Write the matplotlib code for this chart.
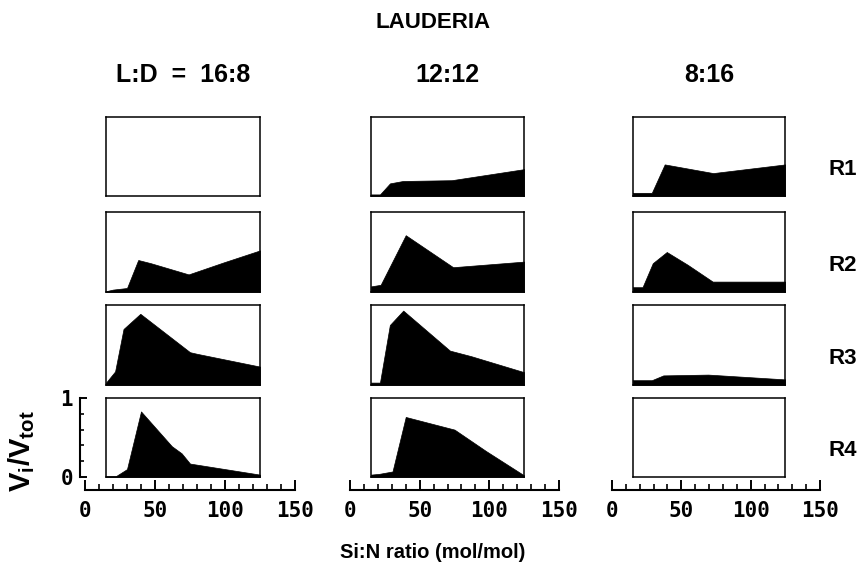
import matplotlib
matplotlib.use('Agg')
import matplotlib.pyplot as plt
from matplotlib.ticker import MultipleLocator, FixedLocator

plt.rcParams['mathtext.fontset'] = 'custom'
plt.rcParams['mathtext.bf'] = 'Liberation Sans:bold'
plt.rcParams['mathtext.rm'] = 'Liberation Sans'
plt.rcParams['mathtext.it'] = 'Liberation Sans:italic'

# ---------------- data ----------------
main_title = 'LAUDERIA'
col_titles = ['L:D  =  16:8', '12:12', '8:16']
row_labels = ['R1', 'R2', 'R3', 'R4']
x_label = 'Si:N ratio (mol/mol)'
y_label = r'$\mathbf{V_i/V_{tot}}$'
x_ticks = [0, 50, 100, 150]
y_ticks = [0, 1]

# L:D = 16:8
x_16_8_R1, y_16_8_R1 = [], []
x_16_8_R2 = [15, 20, 30, 38, 47, 74, 99, 125]
y_16_8_R2 = [0.01, 0.03, 0.05, 0.40, 0.36, 0.22, 0.37, 0.52]
x_16_8_R3 = [15, 21.5, 27.5, 39.5, 75, 80, 125]
y_16_8_R3 = [0.03, 0.17, 0.70, 0.89, 0.41, 0.39, 0.23]
x_16_8_R4 = [15, 22, 30, 40, 62, 69, 75, 125]
y_16_8_R4 = [0.01, 0.01, 0.10, 0.83, 0.39, 0.30, 0.17, 0.03]

# L:D = 12:12
x_12_12_R1 = [15, 21.5, 28.7, 38, 73, 125]
y_12_12_R1 = [0.02, 0.02, 0.16, 0.19, 0.20, 0.34]
x_12_12_R2 = [15, 22, 31, 40, 74, 125]
y_12_12_R2 = [0.07, 0.09, 0.40, 0.71, 0.31, 0.38]
x_12_12_R3 = [15, 21.5, 28.6, 38.2, 71.7, 87, 125]
y_12_12_R3 = [0.03, 0.03, 0.75, 0.93, 0.43, 0.36, 0.16]
x_12_12_R4 = [15, 21, 30.5, 40, 75, 97.5, 125]
y_12_12_R4 = [0.03, 0.04, 0.07, 0.76, 0.60, 0.33, 0.02]

# L:D = 8:16
x_8_16_R1 = [15, 28.7, 38, 73, 125]
y_8_16_R1 = [0.04, 0.04, 0.40, 0.29, 0.40]
x_8_16_R2 = [15, 22, 29.4, 39.5, 54.6, 72.6, 125]
y_8_16_R2 = [0.06, 0.06, 0.36, 0.50, 0.34, 0.13, 0.13]
x_8_16_R3 = [15, 28.7, 37, 69.4, 125]
y_8_16_R3 = [0.06, 0.06, 0.12, 0.13, 0.07]
x_8_16_R4, y_8_16_R4 = [], []

panels = [
    [(x_16_8_R1, y_16_8_R1), (x_16_8_R2, y_16_8_R2), (x_16_8_R3, y_16_8_R3), (x_16_8_R4, y_16_8_R4)],
    [(x_12_12_R1, y_12_12_R1), (x_12_12_R2, y_12_12_R2), (x_12_12_R3, y_12_12_R3), (x_12_12_R4, y_12_12_R4)],
    [(x_8_16_R1, y_8_16_R1), (x_8_16_R2, y_8_16_R2), (x_8_16_R3, y_8_16_R3), (x_8_16_R4, y_8_16_R4)],
]

# ---------------- layout (pixels) ----------------
W, H = 866, 578
ruler_px = [(85, 295), (350, 559), (612, 820)]
row_px = [(117, 196), (212, 292), (305, 385), (398, 477)]
ruler_y = 490
xmin_box, xmax_box = 15, 125
xr = (0, 150)

fig = plt.figure(figsize=(W / 100, H / 100), dpi=100)


def fx(p):
    return p / W


def fy(p):
    return 1 - p / H


tick_font = dict(family='DejaVu Sans Mono', weight='bold', size=15)
bold = dict(family='Liberation Sans', weight='bold')

for c in range(3):
    rl, rr = ruler_px[c]
    rw = rr - rl
    bl = rl + (xmin_box - xr[0]) / (xr[1] - xr[0]) * rw
    br = rl + (xmax_box - xr[0]) / (xr[1] - xr[0]) * rw
    for r in range(4):
        top, bot = row_px[r]
        ax = fig.add_axes([fx(bl), fy(bot), (br - bl) / W, (bot - top) / H])
        ax.set_xlim(xmin_box, xmax_box)
        ax.set_ylim(0, 1)
        ax.set_xticks([])
        ax.set_yticks([])
        for s in ax.spines.values():
            s.set_linewidth(1.1)
            s.set_color('black')
        xs, ys = panels[c][r]
        if xs:
            ax.fill_between(xs, ys, 0, color='black', lw=0.5, edgecolor='black')

    # x ruler
    rax = fig.add_axes([fx(rl), fy(ruler_y), rw / W, 10 / H])
    rax.set_xlim(*xr)
    rax.set_ylim(0, 1)
    rax.patch.set_visible(False)
    for k in ('top', 'left', 'right'):
        rax.spines[k].set_visible(False)
    rax.spines['bottom'].set_linewidth(1.5)
    rax.set_yticks([])
    rax.xaxis.set_major_locator(FixedLocator(x_ticks))
    rax.xaxis.set_minor_locator(MultipleLocator(10))
    rax.tick_params(axis='x', which='major', direction='in', length=7, width=1.4, pad=8)
    rax.tick_params(axis='x', which='minor', direction='in', length=4, width=1.2)
    rax.set_xticklabels([str(t) for t in x_ticks], fontdict=tick_font)

    fig.text(fx((bl + br) / 2), fy(75), col_titles[c], ha='center', va='center',
             fontsize=18, **bold)

# y ruler on the bottom-left panel
top, bot = row_px[3]
yax = fig.add_axes([fx(80), fy(bot), 10 / W, (bot - top) / H])
yax.set_ylim(0, 1)
yax.patch.set_visible(False)
for k in ('top', 'bottom', 'right'):
    yax.spines[k].set_visible(False)
yax.spines['left'].set_linewidth(1.5)
yax.set_xticks([])
yax.yaxis.set_major_locator(FixedLocator(y_ticks))
yax.yaxis.set_minor_locator(MultipleLocator(0.2))
yax.tick_params(axis='y', which='major', direction='in', length=5, width=1.4, pad=5)
yax.tick_params(axis='y', which='minor', direction='in', length=3, width=1.2)
yax.set_yticklabels([str(t) for t in y_ticks], fontdict=tick_font)

fig.text(fx(22), fy(451), y_label, rotation=90, ha='center', va='center', fontsize=21)

for r in range(4):
    top, bot = row_px[r]
    fig.text(fx(828), fy(bot - 0.33 * (bot - top)), row_labels[r], ha='left', va='center',
             fontsize=16, **bold)

fig.text(fx(433), fy(22), main_title, ha='center', va='center', fontsize=16, **bold)
fig.text(fx(433), fy(553), x_label, ha='center', va='center', fontsize=14.5, **bold)

fig.savefig('out.png', dpi=100)
